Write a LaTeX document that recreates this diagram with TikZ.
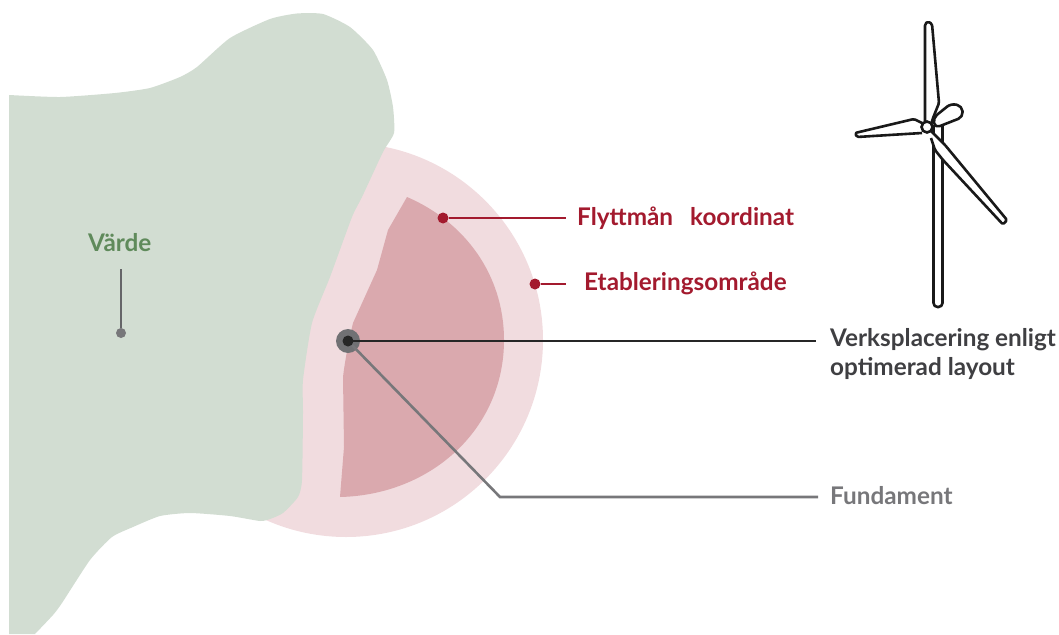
\documentclass[tikz,border=0pt]{standalone}
\usepackage{fontspec}
\setmainfont{Lato}
\definecolor{vgreen}{HTML}{D2DDD2}
\definecolor{vpink}{HTML}{F1DCDF}
\definecolor{vrose}{HTML}{DAA9AE}
\definecolor{vred}{HTML}{A31A2E}
\definecolor{vgrn}{HTML}{5F8A5B}
\definecolor{vgray}{HTML}{77777A}
\definecolor{vdark}{HTML}{3F3F42}
\tikzset{
 lbl/.style={font=\fontsize{24.3}{29}\selectfont\bfseries,anchor=west,inner sep=0pt,align=left},
 dot/.style={circle,inner sep=0pt,minimum size=#1},
 lead/.style={line width=2pt},
 tb/.style={draw=black!90,line width=2.6pt,line join=round,fill=white},
}
\begin{document}
\begin{tikzpicture}[x=1pt,y=-1pt]
\useasboundingbox (0,0) rectangle (1059,634);
% establishment area
\fill[vpink] (346,340) circle (197);
% green area
\fill[vgreen] plot[smooth,tension=0.35] coordinates {(9,95) (60,97) (115,93) (150,88) (180,77) (197,67) (230,38) (270,19) (297,13.5) (323,14) (350,27) (373,50) (387,80) (393,107) (394,133) (383,152) (362,197) (352,217) (330,277) (312,323) (303,380) (303,413) (302,480) (298,497) (283,513) (270,519) (260,521) (230,516) (190,513) (160,516) (133,527) (112,537) (90,560) (62,603) (53,615) (35,634)} -- (9,634) -- cycle;
% moving margin
\fill[vrose] (407,197) .. controls (465,222) and (504,275) .. (504,340)
 .. controls (504,430) and (430,495) .. (340,497)
 -- (344,447) -- (343,377) .. controls (345,360) and (349,340) .. (353,323)
 -- (377,270) -- (388,230) -- cycle;
% labels
\node[lbl,text=vgrn] (varde) at (88,243) {Värde};
\node[lbl,text=vred] (flytt) at (577,218) {Flyttmån\hspace{17pt}koordinat};
\node[lbl,text=vred] (etab) at (584,283) {Etableringsområde};
\node[lbl,text=vdark] (verk) at (830,354) {Verksplacering enligt\\optimerad layout};
\node[lbl,text=vgray] (fund) at (830,496) {Fundament};
% leader anchors and dots
\coordinate (vt) at (121,269);
\node[dot=10pt,fill=vgray] (vd) at (121,333) {};
\draw[line width=1.5pt,draw=vdark!80] (vt) -- (vd);
\coordinate (fe) at (566,218);
\node[dot=11pt,fill=vred] (fd) at (443,218) {};
\draw[lead,draw=vred] (fd) -- (fe);
\coordinate (ee) at (566,284);
\node[dot=11pt,fill=vred] (ed) at (535,284) {};
\draw[lead,draw=vred] (ed) -- (ee);
% foundation
\node[dot=24pt,fill=vgray!95!black] (found) at (348,341) {};
\coordinate (bend) at (500,497);
\coordinate (fu) at (818,497);
\draw[line width=2.6pt,draw=vgray] (found.center) -- (bend) -- (fu);
\coordinate (vr) at (816,341);
\node[dot=11pt,fill=black!85] (core) at (348,341) {};
\draw[lead,draw=black!85] (core.center) -- (vr);
% turbine
\draw[tb,rounded corners=4pt] (933.5,125) -- (933.5,307) -- (942.5,307) -- (942.5,125);
\draw[tb,rounded corners=1.5pt] (925,130) -- (925,24) -- (928,21.5) -- (932,24) -- (939,103) -- (933,118) -- (930,128);
\draw[tb,rounded corners=1.5pt] (922,133) -- (857,137) -- (855,133) -- (914,119) -- (924,124);
\draw[tb,rounded corners=1.5pt] (931,131) -- (945,145) -- (1007,220) -- (1003,224.5) -- (943,160) -- (935,150) -- (931,138);
\draw[tb,rounded corners=5pt] (933,118) -- (951,103.5) -- (962,106) -- (963,117) -- (935,128) -- cycle;
\node[dot=11pt,draw=black!90,line width=2.6pt,fill=white] (hub) at (927,127) {};
\end{tikzpicture}
\end{document}
